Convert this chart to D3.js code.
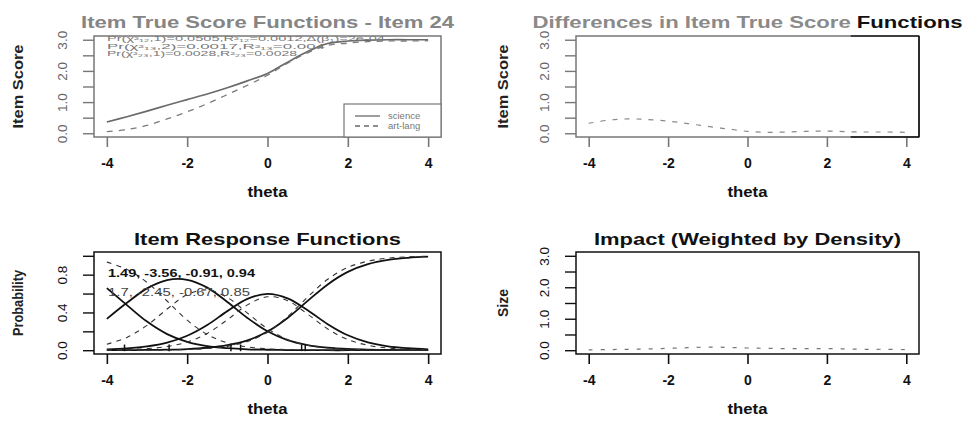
<!DOCTYPE html>
<html>
<head>
<meta charset="UTF-8">
<title>lordif item 24</title>
<script src="https://cdn.jsdelivr.net/npm/d3@7"></script>
<style>
body{margin:0;background:#fff;}
svg text{font-family:"Liberation Sans",Arial,sans-serif;}
</style>
</head>
<body>
<div id="chart"></div>
<script>
// 数据
var thetaGrid=[-4,-3.5,-3,-2.5,-2,-1.5,-1,-0.5,0,0.5,1,1.5,2,2.5,3,3.5,4];
var groups=["science","art-lang"];
// 项目真分数函数
var scienceITS=[0.36,0.53,0.71,0.90,1.08,1.26,1.46,1.68,1.92,2.28,2.62,2.88,2.96,2.99,3.00,3.00,3.00];
var artlangITS=[0.05,0.12,0.25,0.46,0.69,0.95,1.24,1.54,1.86,2.25,2.58,2.82,2.89,2.94,2.96,2.96,2.97];
var diffITS=[0.32,0.42,0.46,0.44,0.39,0.31,0.22,0.14,0.06,0.03,0.04,0.06,0.07,0.05,0.04,0.04,0.03];
var impactVals=[0.01,0.02,0.03,0.04,0.06,0.08,0.10,0.09,0.07,0.06,0.05,0.05,0.05,0.04,0.03,0.03,0.02];
// 项目反应函数 (science 实线, art-lang 虚线)
var sciP0=[0.658,0.478,0.303,0.171,0.089,0.044,0.022,0.010,0.005,0.002,0.001,0,0,0,0,0,0];
var sciP1=[0.332,0.502,0.655,0.743,0.746,0.663,0.511,0.342,0.200,0.107,0.054,0.027,0.013,0.006,0.003,0.001,0.001];
var sciP2=[0.009,0.019,0.040,0.080,0.153,0.267,0.414,0.544,0.597,0.549,0.423,0.276,0.158,0.083,0.041,0.021,0.010];
var sciP3=[0.001,0.001,0.003,0.006,0.012,0.026,0.053,0.104,0.198,0.342,0.522,0.697,0.829,0.911,0.956,0.978,0.990];
var artP0=[0.933,0.856,0.718,0.521,0.318,0.166,0.078,0.035,0.015,0.007,0.003,0.001,0,0,0,0,0];
var artP1=[0.064,0.136,0.263,0.436,0.588,0.638,0.559,0.393,0.228,0.113,0.052,0.023,0.010,0.005,0.002,0.001,0];
var artP2=[0.003,0.008,0.017,0.039,0.087,0.178,0.322,0.480,0.566,0.525,0.382,0.225,0.113,0.052,0.023,0.010,0.004];
var artP3=[0,0.001,0.001,0.003,0.008,0.018,0.041,0.092,0.191,0.356,0.563,0.751,0.876,0.943,0.975,0.989,0.995];
var sciParams=[1.49,-3.56,-0.91,0.94];
var artParams=[1.7,-2.45,-0.67,0.85];
var statLines=["Pr(χ²₁₂,1)=0.0505,R²₁₂=0.0012,Δ(β₁)=2e-04","Pr(χ²₁₃,2)=0.0017,R²₁₃=0.004","Pr(χ²₂₃,1)=0.0028,R²₂₃=0.0028"];
// 刻度
var xTicks=[-4,-2,0,2,4];
var yTicksScore=[0,0.5,1,1.5,2,2.5,3];
var yLabelsScore=["0.0","","1.0","","2.0","","3.0"];
var yTicksProb=[0,0.2,0.4,0.6,0.8,1.0];
var yLabelsProb=["0.0","","0.4","","0.8",""];

var width=969,height=428;
var svg=d3.select("#chart").append("svg").attr("width",width).attr("height",height);
svg.append("rect").attr("width",width).attr("height",height).attr("fill","#fff");

// 画一个面板：框、坐标轴、标题
function panel(o){
	var g=svg.append("g");
	var x=d3.scaleLinear().domain([-4.32,4.32]).range([o.left,o.right]);
	var y=d3.scaleLinear().domain(o.ydom).range([o.bottom,o.top]);
	var cx=(o.left+o.right)/2;

	var xa=g.append("g").attr("transform","translate(0,"+o.bottom+")")
		.call(d3.axisBottom(x).tickValues(xTicks).tickSize(10).tickPadding(11).tickFormat(String));
	xa.select(".domain").remove();
	xa.selectAll("line").attr("stroke",o.col).attr("stroke-width",1.6);
	xa.selectAll("text").attr("fill","#111").style("font-size","14px").style("font-weight","bold");

	var ya=g.append("g").attr("transform","translate("+o.left+",0)")
		.call(d3.axisLeft(y).tickValues(o.yticks).tickSize(11).tickFormat(function(d,i){return o.ylabels[i];}));
	ya.select(".domain").remove();
	ya.selectAll("line").attr("stroke",o.col).attr("stroke-width",1.4);
	ya.selectAll("text").attr("x",null).attr("dy",null)
		.attr("transform","translate(-27,0) rotate(-90)")
		.attr("text-anchor","middle").attr("fill",o.tcol)
		.style("font-size","13.5px");

	g.append("rect").attr("x",o.left).attr("y",o.top)
		.attr("width",o.right-o.left).attr("height",o.bottom-o.top)
		.attr("fill","none").attr("stroke",o.col).attr("stroke-width",1.5);

	// 标题
	var t=g.append("text").attr("x",cx).attr("y",o.titleY).attr("text-anchor","middle")
		.attr("textLength",o.titleLen).attr("lengthAdjust","spacingAndGlyphs")
		.style("font-size","17px").style("font-weight","bold");
	o.title.forEach(function(p){ t.append("tspan").attr("fill",p[1]).text(p[0]); });

	g.append("text").attr("x",cx).attr("y",o.bottom+60).attr("text-anchor","middle")
		.attr("textLength",40).attr("lengthAdjust","spacingAndGlyphs")
		.attr("fill","#111").style("font-size","14px").style("font-weight","bold").text("theta");

	g.append("text").attr("transform","translate("+o.ylabX+","+((o.top+o.bottom)/2)+") rotate(-90)")
		.attr("text-anchor","middle").attr("textLength",o.ylabLen).attr("lengthAdjust","spacingAndGlyphs")
		.attr("fill","#222").style("font-size","14px").style("font-weight","bold").text(o.ylab);

	return {g:g,x:x,y:y};
}

function lineOf(p,vals){
	return d3.line().x(function(d,i){return p.x(thetaGrid[i]);})
		.y(function(d){return p.y(d);}).curve(d3.curveCatmullRom)(vals);
}

// 1. 左上：项目真分数函数
var p1=panel({left:94,right:441,top:36,bottom:137,ydom:[-0.12,3.12],
	yticks:yTicksScore,ylabels:yLabelsScore,col:"#777",tcol:"#666",
	title:[["Item True Score Functions - Item 24","#858585"]],titleY:28,titleLen:373,
	ylab:"Item Score",ylabX:23,ylabLen:84});
p1.g.append("path").attr("d",lineOf(p1,scienceITS)).attr("fill","none").attr("stroke","#6a6a6a").attr("stroke-width",1.7);
p1.g.append("path").attr("d",lineOf(p1,artlangITS)).attr("fill","none").attr("stroke","#7a7a7a").attr("stroke-width",1.3).attr("stroke-dasharray","6,6");
var lens=[278,218,190];
statLines.forEach(function(s,i){
	p1.g.append("text").attr("x",107).attr("y",41+i*7.5).attr("fill","#777")
		.attr("textLength",lens[i]).attr("lengthAdjust","spacingAndGlyphs")
		.style("font-size","6.4px").text(s);
});
// 图例
var lg=p1.g.append("g");
lg.append("rect").attr("x",344).attr("y",104).attr("width",97).attr("height",33)
	.attr("fill","#fff").attr("stroke","#777").attr("stroke-width",1.2);
groups.forEach(function(n,i){
	lg.append("line").attr("x1",355).attr("x2",380).attr("y1",116+i*10).attr("y2",116+i*10)
		.attr("stroke","#6a6a6a").attr("stroke-width",1.3).attr("stroke-dasharray",i?"5,4":null);
	lg.append("text").attr("x",388).attr("y",119+i*10).attr("fill","#777").style("font-size","9.5px").text(n);
});

// 2. 右上：差异
var p2=panel({left:576,right:919,top:36,bottom:137,ydom:[-0.12,3.12],
	yticks:yTicksScore,ylabels:yLabelsScore,col:"#777",tcol:"#666",
	title:[["Differences in Item True Score ","#8a8a8a"],["Functions","#111"]],titleY:28,titleLen:430,
	ylab:"Item Score",ylabX:508,ylabLen:84});
p2.g.append("line").attr("x1",919).attr("x2",919).attr("y1",36).attr("y2",137).attr("stroke","#111").attr("stroke-width",1.6);
p2.g.append("line").attr("x1",p2.x(2.6)).attr("x2",919).attr("y1",36).attr("y2",36).attr("stroke","#222").attr("stroke-width",1.6);
p2.g.append("line").attr("x1",p2.x(2.6)).attr("x2",919).attr("y1",137).attr("y2",137).attr("stroke","#111").attr("stroke-width",1.6);
p2.g.append("path").attr("d",lineOf(p2,diffITS)).attr("fill","none").attr("stroke","#888").attr("stroke-width",1.2).attr("stroke-dasharray","5,7");

// 3. 左下：项目反应函数
var p3=panel({left:94,right:441,top:252,bottom:354,ydom:[-0.04,1.04],
	yticks:yTicksProb,ylabels:yLabelsProb,col:"#111",tcol:"#111",
	title:[["Item Response Functions","#111"]],titleY:245,titleLen:267,
	ylab:"Probability",ylabX:23,ylabLen:66});
[sciP0,sciP1,sciP2,sciP3].forEach(function(v){
	p3.g.append("path").attr("d",lineOf(p3,v)).attr("fill","none").attr("stroke","#111").attr("stroke-width",1.8);
});
[artP0,artP1,artP2,artP3].forEach(function(v){
	p3.g.append("path").attr("d",lineOf(p3,v)).attr("fill","none").attr("stroke","#333").attr("stroke-width",1.1).attr("stroke-dasharray","5,5");
});
// 阈值标记
sciParams.slice(1).concat(artParams.slice(1)).forEach(function(b){
	p3.g.append("line").attr("x1",p3.x(b)).attr("x2",p3.x(b)).attr("y1",p3.y(-0.01)).attr("y2",p3.y(0.06))
		.attr("stroke","#111").attr("stroke-width",1.5);
});
p3.g.append("text").attr("x",108).attr("y",277).attr("fill","#111")
	.attr("textLength",147).attr("lengthAdjust","spacingAndGlyphs")
	.style("font-size","11px").style("font-weight","bold").text(sciParams.join(", "));
p3.g.append("text").attr("x",108).attr("y",296).attr("fill","#444")
	.attr("textLength",142).attr("lengthAdjust","spacingAndGlyphs")
	.style("font-size","11px").text(artParams.join(", "));

// 4. 右下：影响
var p4=panel({left:576,right:919,top:252,bottom:354,ydom:[-0.12,3.12],
	yticks:yTicksScore,ylabels:yLabelsScore,col:"#111",tcol:"#111",
	title:[["Impact (Weighted by Density)","#111"]],titleY:245,titleLen:307,
	ylab:"Size",ylabX:508,ylabLen:28});
p4.g.append("path").attr("d",lineOf(p4,impactVals)).attr("fill","none").attr("stroke","#777").attr("stroke-width",1.2).attr("stroke-dasharray","4,8");
</script>
</body>
</html>
